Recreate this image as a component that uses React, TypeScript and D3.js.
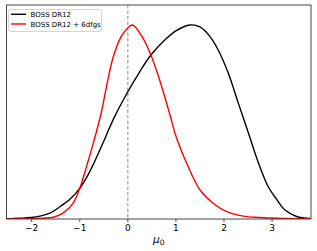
import React from 'react';
import * as d3 from 'd3';

// posterior of mu_0 (normalised to peak = 1)
const muGrid = [-2.54, -2.25, -2.0, -1.83, -1.62, -1.42, -1.2, -1.0, -0.8, -0.52, -0.3, 0.0, 0.25, 0.48, 0.8, 1.0, 1.29, 1.5, 1.71, 1.88, 2.09, 2.3, 2.51, 2.72, 2.92, 3.1, 3.27, 3.51, 3.81];
const bossDR12 = [0.001, 0.004, 0.008, 0.015, 0.03, 0.062, 0.103, 0.158, 0.24, 0.39, 0.515, 0.656, 0.76, 0.845, 0.93, 0.97, 1.0, 0.99, 0.94, 0.871, 0.751, 0.596, 0.442, 0.287, 0.166, 0.1, 0.046, 0.013, 0.002];

const muGrid6df = [-2.54, -2.0, -1.75, -1.55, -1.35, -1.14, -1.0, -0.86, -0.72, -0.56, -0.43, -0.31, -0.15, 0.0, 0.1, 0.32, 0.48, 0.67, 0.86, 1.01, 1.22, 1.5, 1.78, 2.06, 2.4, 2.75, 3.1, 3.81];
const bossDR12_6df = [0.0, 0.001, 0.004, 0.009, 0.03, 0.081, 0.158, 0.27, 0.39, 0.54, 0.7, 0.83, 0.935, 0.985, 1.0, 0.93, 0.845, 0.71, 0.55, 0.42, 0.29, 0.15, 0.08, 0.038, 0.015, 0.008, 0.004, 0.001];

const xTicks = [-2, -1, 0, 1, 2, 3];
const seriesNames = ['BOSS DR12', 'BOSS DR12 + 6dfgs'];
const seriesColors = ['#000000', '#ff0000'];

const W = 317;
const H = 251;
const left = 6.5, right = 311, top = 5, bottom = 219;

export default function App() {
  const x = d3.scaleLinear().domain([-2.524, 3.81]).range([left, right]);
  const y = d3.scaleLinear().domain([0, 1.103]).range([bottom, top]);

  const line = d3.line<[number, number]>()
    .x(d => x(d[0]))
    .y(d => y(Math.max(0, d[1])))
    .curve(d3.curveCatmullRom.alpha(0.5));

  const black = muGrid.map((m, i) => [m, bossDR12[i]] as [number, number]);
  const red = muGrid6df.map((m, i) => [m, bossDR12_6df[i]] as [number, number]);

  return (
    <svg width={W} height={H} style={{ position: 'fixed', left: 0, top: 0, background: '#fff' }}
      fontFamily="DejaVu Sans, sans-serif">
      <defs>
        <clipPath id="plot">
          <rect x={left} y={top} width={right - left} height={bottom - top} />
        </clipPath>
      </defs>

      <line x1={x(0)} x2={x(0)} y1={top} y2={bottom} stroke="#999" strokeWidth={1.1} strokeDasharray="3.5,2" />

      <g clipPath="url(#plot)" fill="none" strokeWidth={1.4} strokeLinejoin="round">
        <path d={line(black) || ''} stroke={seriesColors[0]} />
        <path d={line(red) || ''} stroke={seriesColors[1]} />
      </g>

      <rect x={left} y={top} width={right - left} height={bottom - top} fill="none" stroke="#333" strokeWidth={0.9} />

      {xTicks.map(t => (
        <g key={t} transform={`translate(${x(t)},${bottom})`}>
          <line y1={0} y2={3} stroke="#333" strokeWidth={0.9} />
          <text y={11.5} textAnchor="middle" fontSize={9} fill="#000">{t < 0 ? `\u2212${-t}` : t}</text>
        </g>
      ))}

      <text x={(left + right) / 2} y={243} textAnchor="middle" fontSize={10.5} fill="#000">
        <tspan fontStyle="italic">μ</tspan>
        <tspan fontSize={7.5} dy={2}>0</tspan>
      </text>

      <g>
        <rect x={8.5} y={9.5} width={93} height={22} rx={2} fill="#fff" fillOpacity={0.8} stroke="#ccc" strokeWidth={0.8} />
        {seriesNames.map((name, i) => (
          <g key={name} transform={`translate(0,${14.3 + i * 9.7})`}>
            <line x1={11} x2={26} stroke={seriesColors[i]} strokeWidth={1.4} />
            <text x={30.5} y={2.5} fontSize={7} fill="#000">{name}</text>
          </g>
        ))}
      </g>
    </svg>
  );
}
